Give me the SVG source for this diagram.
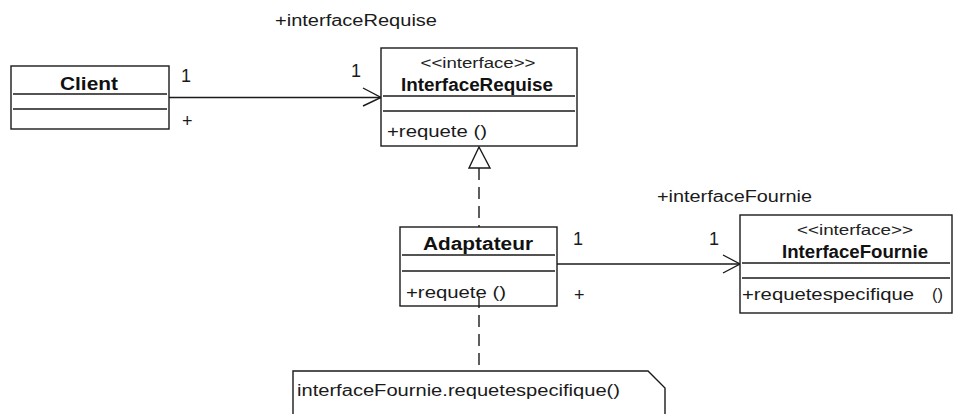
<svg xmlns="http://www.w3.org/2000/svg" width="963" height="414" viewBox="0 0 963 414">
<style>
.box{fill:#fff;stroke:#1a1a1a;stroke-width:1.4}
.sep{stroke:#1a1a1a;stroke-width:1.4}
.ln{fill:none;stroke:#1a1a1a;stroke-width:1.4}
.dash{fill:none;stroke:#1a1a1a;stroke-width:1.4;stroke-dasharray:12 7}
.t{font-family:"Liberation Sans",Arial,sans-serif;font-size:16px;fill:#1a1a1a}
.m{font-family:"Liberation Sans",Arial,sans-serif;font-size:18px;fill:#1a1a1a}
.s{font-family:"Liberation Sans",Arial,sans-serif;font-size:14px;fill:#222}
.b{font-family:"Liberation Sans",Arial,sans-serif;font-size:18px;font-weight:bold;fill:#111}
</style>
<rect width="963" height="414" fill="#fff"/>
<g id="connectors">
  <line class="ln" x1="169" y1="97.5" x2="381" y2="97.5"/>
  <polyline class="ln" points="363,88 381,97.5 363,106"/>
  <line class="ln" x1="557" y1="264" x2="740" y2="264"/>
  <polyline class="ln" points="723,255 740,264 723,273"/>
  <line class="dash" x1="479" y1="168" x2="479" y2="227"/>
  <polygon class="box" points="479,147 469,168 490,168"/>
  <line class="dash" x1="479" y1="296" x2="479" y2="371"/>
  <text class="t" x="275" y="26" textLength="162" lengthAdjust="spacingAndGlyphs">+interfaceRequise</text>
  <text class="m" x="181" y="82">1</text>
  <text class="m" x="182" y="127">+</text>
  <text class="m" x="351" y="77">1</text>
  <text class="t" x="657" y="202" textLength="155" lengthAdjust="spacingAndGlyphs">+interfaceFournie</text>
  <text class="m" x="573" y="245">1</text>
  <text class="m" x="574" y="301">+</text>
  <text class="m" x="709" y="245">1</text>
</g>
<g id="client">
  <rect class="box" x="11" y="66" width="158" height="63"/>
  <line class="sep" x1="13" y1="94" x2="167" y2="94"/>
  <line class="sep" x1="13" y1="109" x2="167" y2="109"/>
  <text class="b" x="89" y="90" text-anchor="middle" textLength="58" lengthAdjust="spacingAndGlyphs">Client</text>
</g>
<g id="interfaceRequise">
  <rect class="box" x="381" y="48" width="196" height="98"/>
  <line class="sep" x1="383" y1="96" x2="575" y2="96"/>
  <line class="sep" x1="383" y1="111" x2="575" y2="111"/>
  <text class="s" x="478" y="68" text-anchor="middle" textLength="115" lengthAdjust="spacingAndGlyphs">&lt;&lt;interface&gt;&gt;</text>
  <text class="b" x="477" y="91" text-anchor="middle" textLength="152" lengthAdjust="spacingAndGlyphs">InterfaceRequise</text>
  <text class="t" x="387" y="137" textLength="100" lengthAdjust="spacingAndGlyphs">+requete ()</text>
</g>
<g id="adaptateur">
  <rect class="box" x="400" y="227" width="157" height="79" fill-opacity="0"/>
  <line class="sep" x1="402" y1="255" x2="555" y2="255"/>
  <line class="sep" x1="402" y1="271" x2="555" y2="271"/>
  <text class="b" x="478" y="250" text-anchor="middle" textLength="110" lengthAdjust="spacingAndGlyphs">Adaptateur</text>
  <text class="t" x="406" y="298" textLength="100" lengthAdjust="spacingAndGlyphs">+requete ()</text>
</g>
<g id="interfaceFournie">
  <rect class="box" x="740" y="215" width="212" height="98"/>
  <line class="sep" x1="742" y1="263" x2="950" y2="263"/>
  <line class="sep" x1="742" y1="278" x2="950" y2="278"/>
  <text class="s" x="855" y="235" text-anchor="middle" textLength="116" lengthAdjust="spacingAndGlyphs">&lt;&lt;interface&gt;&gt;</text>
  <text class="b" x="855" y="258" text-anchor="middle" textLength="146" lengthAdjust="spacingAndGlyphs">InterfaceFournie</text>
  <text class="t" x="742" y="300" textLength="172" lengthAdjust="spacingAndGlyphs">+requetespecifique</text>
  <text class="t" x="932" y="300" textLength="11" lengthAdjust="spacingAndGlyphs">()</text>
</g>
<g id="note">
  <path class="box" d="M293,418 V371 H648 L665,388 V418"/>
  <text class="t" x="297" y="396" textLength="323" lengthAdjust="spacingAndGlyphs">interfaceFournie.requetespecifique()</text>
</g>
</svg>
